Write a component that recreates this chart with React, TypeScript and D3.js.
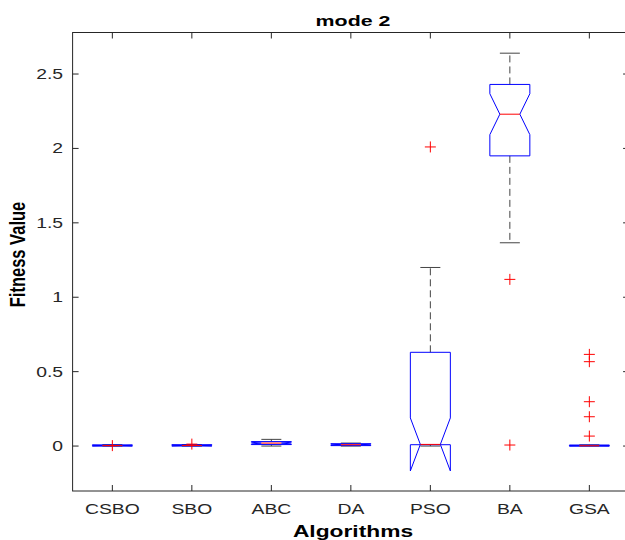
import React from "react";
import * as d3 from "d3";

const categories = ["CSBO", "SBO", "ABC", "DA", "PSO", "BA", "GSA"];
const q1 = [0.0, 0.0, 0.01, 0.003, 0.009, 1.95, 0.0];
const medians = [0.003, 0.004, 0.02, 0.009, 0.011, 2.23, 0.002];
const q3 = [0.008, 0.009, 0.03, 0.016, 0.63, 2.43, 0.007];
const whiskerLow = [0.0, 0.0, 0.0, 0.0, 0.0, 1.366, 0.0];
const whiskerHigh = [0.009, 0.01, 0.045, 0.02, 1.2, 2.64, 0.008];
const outliers: number[][] = [
  [0.003],
  [0.013],
  [],
  [],
  [2.01],
  [1.12, 0.007],
  [0.067, 0.197, 0.298, 0.567, 0.616],
];
const nRuns = 30;
const yTicks = [0, 0.5, 1, 1.5, 2, 2.5];
const yTickLabels = ["0", "0.5", "1", "1.5", "2", "2.5"];
const title = "mode 2";
const xLabel = "Algorithms";
const yLabel = "Fitness Value";

const W = 625;
const H = 540;
const SX = 1.38;
const FONT = "'Liberation Sans', Arial, Helvetica, sans-serif";
const AX = "#262626";

export default function App() {
  const left = 72.6, right = 629.1, top = 32.5, bottom = 491;
  const x = d3.scaleLinear().domain([0.5, 7.5]).range([left, right]);
  const y = d3.scaleLinear().domain([-0.302, 2.779]).range([bottom, top]);
  const halfW = 20;
  const capHalf = 10;
  const tickLen = 6;

  const boxes = categories.map((c, i) => {
    const cx = x(i + 1);
    const iqr = q3[i] - q1[i];
    const nHi = medians[i] + (1.57 * iqr) / Math.sqrt(nRuns);
    const nLo = medians[i] - (1.57 * iqr) / Math.sqrt(nRuns);
    const l = cx - halfW, r = cx + halfW;
    const li = cx - halfW / 2, ri = cx + halfW / 2;
    const pts: [number, number][] = [
      [l, y(q3[i])],
      [l, y(nHi)],
      [li, y(medians[i])],
      [l, y(nLo)],
      [l, y(q1[i])],
      [r, y(q1[i])],
      [r, y(nLo)],
      [ri, y(medians[i])],
      [r, y(nHi)],
      [r, y(q3[i])],
    ];
    const path = d3.line()(pts) + "Z";
    return (
      <g key={c}>
        <line x1={cx} x2={cx} y1={y(q3[i])} y2={y(whiskerHigh[i])} stroke="#444" strokeWidth={1} strokeDasharray="7,4" />
        <line x1={cx} x2={cx} y1={y(q1[i])} y2={y(whiskerLow[i])} stroke="#444" strokeWidth={1} strokeDasharray="7,4" />
        <line x1={cx - capHalf} x2={cx + capHalf} y1={y(whiskerHigh[i])} y2={y(whiskerHigh[i])} stroke="#444" strokeWidth={1} />
        <line x1={cx - capHalf} x2={cx + capHalf} y1={y(whiskerLow[i])} y2={y(whiskerLow[i])} stroke="#444" strokeWidth={1} />
        <path d={path} fill="none" stroke="#0000ff" strokeWidth={1} />
        <line x1={li} x2={ri} y1={y(medians[i])} y2={y(medians[i])} stroke="#ff0000" strokeWidth={1} />
        {outliers[i].map((v, k) => (
          <g key={k} stroke="#ff0000" strokeWidth={1}>
            <line x1={cx - 5.5} x2={cx + 5.5} y1={y(v)} y2={y(v)} />
            <line x1={cx} x2={cx} y1={y(v) - 5.5} y2={y(v) + 5.5} />
          </g>
        ))}
      </g>
    );
  });

  const txt = (
    key: string,
    s: string,
    tx: number,
    ty: number,
    opts: { size: number; bold?: boolean; anchor?: string; rotate?: boolean }
  ) => (
    <text
      key={key}
      transform={`translate(${tx},${ty}) scale(${SX},1)${opts.rotate ? " rotate(-90)" : ""}`}
      fontFamily={FONT}
      fontSize={opts.size}
      fontWeight={opts.bold ? "bold" : "normal"}
      textAnchor={opts.anchor || "middle"}
      fill={opts.bold ? "#000" : AX}
    >
      {s}
    </text>
  );

  return (
    <svg width={W} height={H} style={{ position: "absolute", left: 0, top: 0, background: "#fff" }}>
      <rect x={0} y={0} width={W} height={H} fill="#fff" />
      {boxes}
      <rect x={left} y={top} width={right - left} height={bottom - top} fill="none" stroke={AX} strokeWidth={1} />
      {categories.map((c, i) => (
        <g key={"xt" + c} stroke={AX} strokeWidth={1}>
          <line x1={x(i + 1)} x2={x(i + 1)} y1={bottom} y2={bottom - tickLen} />
          <line x1={x(i + 1)} x2={x(i + 1)} y1={top} y2={top + tickLen} />
        </g>
      ))}
      {yTicks.map((t) => (
        <g key={"yt" + t} stroke={AX} strokeWidth={1}>
          <line x1={left} x2={left + tickLen} y1={y(t)} y2={y(t)} />
          <line x1={right} x2={right - tickLen} y1={y(t)} y2={y(t)} />
        </g>
      ))}
      {categories.map((c, i) => txt("xl" + c, c, x(i + 1), 514, { size: 14 }))}
      {yTicks.map((t, i) => txt("yl" + t, yTickLabels[i], left - 9.5, y(t) + 5, { size: 14, anchor: "end" }))}
      {txt("title", title, 353, 26, { size: 15.5, bold: true })}
      {txt("xlab", xLabel, 353, 537, { size: 16.5, bold: true })}
      {txt("ylab", yLabel, 25, 254.5, { size: 16.5, bold: true, rotate: true })}
    </svg>
  );
}
